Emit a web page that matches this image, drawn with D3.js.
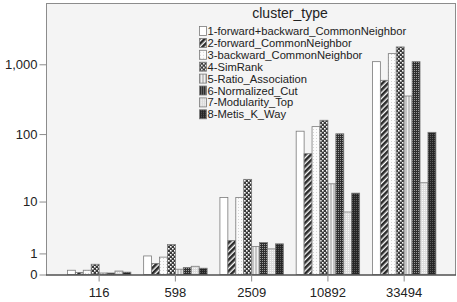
<!DOCTYPE html>
<html>
<head>
<meta charset="utf-8">
<script src="https://cdn.jsdelivr.net/npm/d3@7"></script>
<style>
  html, body { margin: 0; padding: 0; background: #fff; }
  svg text { font-family: "Liberation Sans", Arial, sans-serif; fill: #222; }
</style>
</head>
<body>
<svg id="chart" width="457" height="302"></svg>
<script>
// sizes of the networks (x categories)
const categories = ["116", "598", "2509", "10892", "33494"]

const clusterTypes = [
  "1-forward+backward_CommonNeighbor",
  "2-forward_CommonNeighbor",
  "3-backward_CommonNeighbor",
  "4-SimRank",
  "5-Ratio_Association",
  "6-Normalized_Cut",
  "7-Modularity_Top",
  "8-Metis_K_Way"
]

// one array per cluster type, same order as categories
const fwdBwdCommon = [0.15, 0.84, 11.6, 110, 1090]
const fwdCommon    = [0.07, 0.44, 2.06, 52, 590]
const bwdCommon    = [0.15, 0.77, 11.6, 128, 1420]
const simRank      = [0.40, 1.68, 21.8, 158, 1770]
const ratioAssoc   = [0.05, 0.19, 1.51, 18.7, 352]
const normCut      = [0.05, 0.26, 1.86, 101, 1090]
const modularity   = [0.12, 0.31, 1.32, 6.8, 19.4]
const metisKWay    = [0.08, 0.23, 1.74, 13.5, 106]

const seriesValues = [fwdBwdCommon, fwdCommon, bwdCommon, simRank, ratioAssoc, normCut, modularity, metisKWay]

const yTicks = [0, 1, 10, 100, 1000]

const svg = d3.select("#chart")
const defs = svg.append("defs")

// fill patterns, roughly like the SPSS ones
function pattern(id, size, bg, draw) {
  const p = defs.append("pattern")
    .attr("id", id)
    .attr("patternUnits", "userSpaceOnUse")
    .attr("width", size).attr("height", size)
  p.append("rect").attr("width", size).attr("height", size).attr("fill", bg)
  draw(p)
  return p
}

pattern("p1", 4, "#ffffff", () => {})
pattern("p2", 4, "#ffffff", p => {
  p.attr("patternTransform", "rotate(45)")
  p.append("rect").attr("width", 2.6).attr("height", 4).attr("fill", "#2b2b2b")
})
pattern("p3", 3, "#fbfbfb", p => {
  p.append("rect").attr("x", 1).attr("y", 0).attr("width", 1).attr("height", 1).attr("fill", "#d4d4d4")
})
pattern("p4", 4, "#3a3a3a", p => {
  p.append("rect").attr("x", 0).attr("y", 0).attr("width", 1.6).attr("height", 1.6).attr("fill", "#ffffff")
  p.append("rect").attr("x", 2).attr("y", 2).attr("width", 1.6).attr("height", 1.6).attr("fill", "#ffffff")
})
pattern("p5", 3, "#c4c4c4", p => {
  p.append("rect").attr("x", 2).attr("width", 1).attr("height", 3).attr("fill", "#f0f0f0")
})
pattern("p6", 2, "#2e2e2e", p => {
  p.append("rect").attr("x", 0).attr("y", 0).attr("width", 1).attr("height", 1).attr("fill", "#9a9a9a")
})
pattern("p7", 2, "#dcdcdc", p => {
  p.append("rect").attr("x", 0).attr("y", 0).attr("width", 1).attr("height", 1).attr("fill", "#f6f6f6")
})
pattern("p8", 2, "#262626", p => {
  p.append("rect").attr("x", 0).attr("y", 0).attr("width", 1).attr("height", 1).attr("fill", "#5c5c5c")
})

const fills = clusterTypes.map((d, i) => `url(#p${i + 1})`)

const plot = {left: 46, right: 456, top: 3, bottom: 274.5}

// plot background + frame
svg.append("rect")
  .attr("x", plot.left + 0.5).attr("y", plot.top + 0.5)
  .attr("width", plot.right - plot.left - 1).attr("height", plot.bottom - plot.top)
  .attr("fill", "#f4f4f4")
  .attr("stroke", "#8c8c8c")

const x0 = d3.scaleBand()
  .domain(categories)
  .range([61, 442.3])

const x1 = d3.scaleBand()
  .domain(d3.range(clusterTypes.length))
  .range([6.4, x0.bandwidth() - 6.4])

const y = d3.scaleSymlog()
  .constant(1)
  .domain([0, 7500])
  .range([plot.bottom, plot.top])

// bars
const rows = []
categories.forEach((c, ci) => {
  seriesValues.forEach((vals, si) => rows.push({cat: c, s: si, v: vals[ci]}))
})

svg.append("g")
  .selectAll("rect")
  .data(rows)
  .join("rect")
  .attr("x", d => x0(d.cat) + x1(d.s))
  .attr("y", d => y(d.v))
  .attr("width", x1.bandwidth())
  .attr("height", d => y(0) - y(d.v))
  .attr("fill", (d) => fills[d.s])
  .attr("stroke", "#7a7a7a")
  .attr("stroke-width", 0.8)

// y axis
const yAxis = svg.append("g")
  .attr("transform", `translate(${plot.left + 0.5}, 0)`)
  .call(d3.axisLeft(y).tickValues(yTicks).tickFormat(d3.format(",")).tickSize(7).tickPadding(2).tickSizeOuter(0))
yAxis.select(".domain").remove()
yAxis.selectAll("line").attr("stroke", "#8c8c8c")
yAxis.selectAll("text").attr("font-size", 13).attr("fill", "#222")

// x axis
const xAxis = svg.append("g")
  .attr("transform", `translate(0, ${plot.bottom})`)
  .call(d3.axisBottom(x0).tickSize(7).tickPadding(6).tickSizeOuter(0))
xAxis.select(".domain").attr("stroke", "#333").attr("d", `M${plot.left},0.5H${plot.right}`)
xAxis.selectAll("line").attr("stroke", "#8c8c8c")
xAxis.selectAll("text").attr("font-size", 13).attr("fill", "#222")

// legend
const legend = svg.append("g").attr("transform", "translate(199, 0)")
legend.append("text")
  .attr("x", 91).attr("y", 18)
  .attr("text-anchor", "middle")
  .attr("font-size", 14)
  .text("cluster_type")

const item = legend.selectAll("g.item")
  .data(clusterTypes)
  .join("g")
  .attr("class", "item")
  .attr("transform", (d, i) => `translate(0, ${31 + i * 11.9})`)

item.append("rect")
  .attr("x", 0.5).attr("y", -4.5)
  .attr("width", 7).attr("height", 9)
  .attr("fill", (d, i) => fills[i])
  .attr("stroke", "#7a7a7a")
  .attr("stroke-width", 0.8)

item.append("text")
  .attr("x", 8.5).attr("y", 4)
  .attr("font-size", 11.2)
  .text(d => d)
</script>
</body>
</html>
